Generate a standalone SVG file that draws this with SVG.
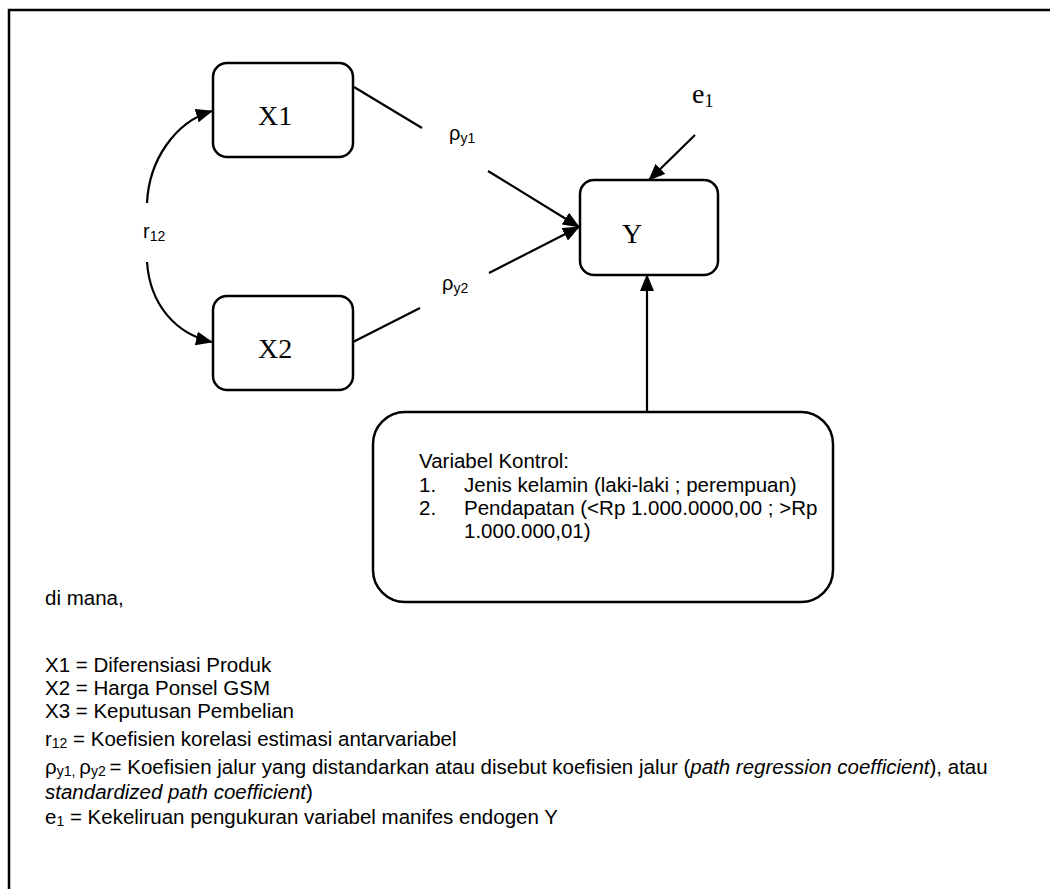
<svg xmlns="http://www.w3.org/2000/svg" width="1050" height="889" viewBox="0 0 1050 889">
<defs>
<style>
.box{fill:#fff;stroke:#000;stroke-width:2.5}
.ln{fill:none;stroke:#000;stroke-width:2.2}
.serif{font-family:"Liberation Serif","Times New Roman",serif;fill:#000}
.sans{font-family:"Liberation Sans",Arial,sans-serif;fill:#000}
.leg{font-family:"Liberation Sans",Arial,sans-serif;font-size:20.5px;fill:#000}
.it{font-style:italic}
</style>
<marker id="ah" markerWidth="18" markerHeight="14" refX="16" refY="7" orient="auto" markerUnits="userSpaceOnUse">
<path d="M0,0 L17,7 L0,14 Z" fill="#000"/>
</marker>
</defs>
<rect width="1050" height="889" fill="#fff"/>
<path d="M9,889 L9,10 L1050,10" fill="none" stroke="#000" stroke-width="2.5"/>

<g id="connectors">
<path class="ln" d="M147,203 C149,160 175,122 212,111" marker-end="url(#ah)"/>
<path class="ln" d="M147,262 C150,305 176,334 212,342" marker-end="url(#ah)"/>
<line class="ln" x1="354" y1="87" x2="422" y2="128"/>
<line class="ln" x1="488" y1="171" x2="579" y2="227" marker-end="url(#ah)"/>
<line class="ln" x1="353" y1="342" x2="420" y2="308"/>
<line class="ln" x1="489" y1="273" x2="579" y2="227" marker-end="url(#ah)"/>
<line class="ln" x1="695" y1="135" x2="649" y2="180" marker-end="url(#ah)"/>
<line class="ln" x1="647" y1="421" x2="647" y2="275" marker-end="url(#ah)"/>
<text class="sans" x="143" y="238" font-size="20">r<tspan font-size="14" dy="3">12</tspan></text>
<text class="sans" x="449" y="140" font-size="20">ρ<tspan font-size="14" dy="3">y1</tspan></text>
<text class="sans" x="442" y="290" font-size="20">ρ<tspan font-size="14" dy="3">y2</tspan></text>
<text class="serif" x="692" y="103" font-size="28">e<tspan font-size="18" dy="4">1</tspan></text>
</g>

<g id="node-x1">
<rect class="box" x="213" y="63" width="140" height="94" rx="14"/>
<text class="serif" x="258" y="125" font-size="28">X1</text>
</g>
<g id="node-x2">
<rect class="box" x="213" y="296" width="140" height="94" rx="14"/>
<text class="serif" x="258" y="358" font-size="28">X2</text>
</g>
<g id="node-y">
<rect class="box" x="580" y="180" width="138" height="95" rx="14"/>
<text class="serif" x="622" y="243" font-size="28">Y</text>
</g>
<g id="node-control">
<rect class="box" x="373" y="412" width="460" height="190" rx="32"/>
<text class="sans" x="419" y="468" font-size="20.5">Variabel Kontrol:</text>
<text class="sans" x="419" y="492" font-size="20.5">1.</text>
<text class="sans" x="464" y="492" font-size="20.5">Jenis kelamin (laki-laki ; perempuan)</text>
<text class="sans" x="419" y="515" font-size="20.5">2.</text>
<text class="sans" x="464" y="515" font-size="20.5">Pendapatan (&lt;Rp 1.000.0000,00 ; &gt;Rp</text>
<text class="sans" x="464" y="538" font-size="20.5">1.000.000,01)</text>
</g>

<g id="legend">
<text class="leg" x="45" y="605">di mana,</text>
<text class="leg" x="45" y="672">X1 = Diferensiasi Produk</text>
<text class="leg" x="45" y="695">X2 = Harga Ponsel GSM</text>
<text class="leg" x="45" y="718">X3 = Keputusan Pembelian</text>
<text class="leg" x="45" y="746">r<tspan font-size="14" dy="2">12</tspan><tspan dy="-2"> = Koefisien korelasi estimasi antarvariabel</tspan></text>
<text class="leg" x="45" y="774">ρ<tspan font-size="14" dy="2">y1, </tspan><tspan dy="-2">ρ</tspan><tspan font-size="14" dy="2">y2 </tspan><tspan dy="-2">= Koefisien jalur yang distandarkan atau disebut koefisien jalur (</tspan><tspan class="it">path regression coefficient</tspan>), atau</text>
<text class="leg it" x="45" y="799">standardized path coefficient<tspan font-style="normal">)</tspan></text>
<text class="leg" x="45" y="824">e<tspan font-size="14" dy="2">1</tspan><tspan dy="-2"> = Kekeliruan pengukuran variabel manifes endogen Y</tspan></text>
</g>
</svg>
